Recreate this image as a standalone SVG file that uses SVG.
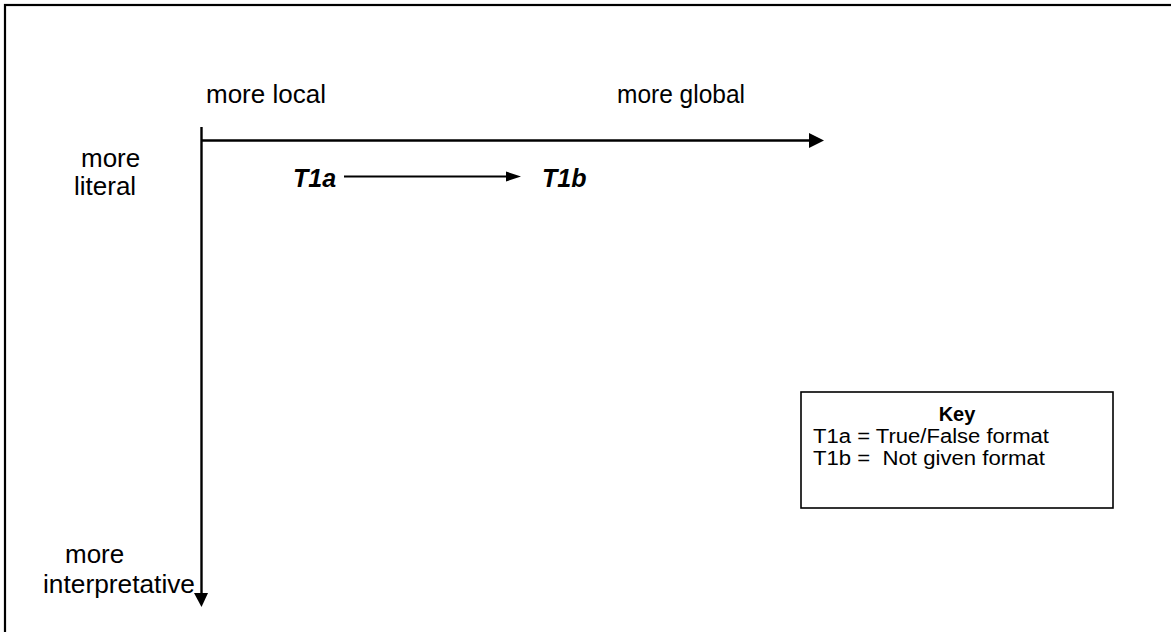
<svg xmlns="http://www.w3.org/2000/svg" width="1171" height="632" viewBox="0 0 1171 632">
<style>
.lbl{font-family:"Liberation Sans",Arial,sans-serif;font-size:26px;fill:#000}
.bi{font-family:"Liberation Sans",Arial,sans-serif;font-size:25px;font-weight:bold;font-style:italic;fill:#000}
.key{font-family:"Liberation Sans",Arial,sans-serif;font-size:20px;fill:#000}
.ln{stroke:#000;fill:none}
.head{fill:#000;stroke:none}
</style>
<rect x="0" y="0" width="1171" height="632" fill="#fff"/>
<rect id="frame" x="5" y="5" width="1200" height="700" fill="none" stroke="#000" stroke-width="2.2"/>
<g id="connectors">
  <line class="ln" x1="201" y1="140.5" x2="812" y2="140.5" stroke-width="2.4"/>
  <polygon class="head" points="809,133 824,140.5 809,148"/>
  <line class="ln" x1="201.5" y1="127" x2="201.5" y2="596" stroke-width="2.4"/>
  <polygon class="head" points="194,593 208,593 201.5,607"/>
  <line class="ln" x1="344" y1="176.5" x2="508" y2="176.5" stroke-width="2.2"/>
  <polygon class="head" points="506,171.5 521,176.5 506,181.5"/>
</g>
<g id="label-more-local"><text class="lbl" x="206" y="103">more local</text></g>
<g id="label-more-global"><text class="lbl" x="617" y="103" textLength="128" lengthAdjust="spacingAndGlyphs">more global</text></g>
<g id="label-more-literal"><text class="lbl" x="81" y="167">more</text><text class="lbl" x="74" y="195">literal</text></g>
<g id="label-more-interpretative"><text class="lbl" x="65" y="563">more</text><text class="lbl" x="43" y="593" textLength="152" lengthAdjust="spacingAndGlyphs">interpretative</text></g>
<g id="node-T1a"><text class="bi" x="293" y="187">T1a</text></g>
<g id="node-T1b"><text class="bi" x="542" y="187">T1b</text></g>
<g id="key">
  <rect x="801" y="392" width="312" height="116" fill="#fff" stroke="#000" stroke-width="1.6"/>
  <text class="key" x="957" y="421" text-anchor="middle" font-weight="bold">Key</text>
  <text class="key" x="813" y="443" textLength="236" lengthAdjust="spacingAndGlyphs" xml:space="preserve">T1a = True/False format</text>
  <text class="key" x="813" y="465" textLength="232" lengthAdjust="spacingAndGlyphs" xml:space="preserve">T1b =  Not given format</text>
</g>
</svg>
